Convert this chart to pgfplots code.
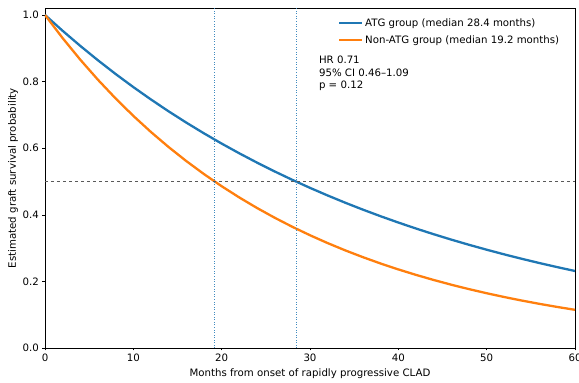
\documentclass[border=0pt]{standalone}
\usepackage{fontspec}
\setmainfont{DejaVu Sans}
\usepackage{pgfplots}
\pgfplotsset{compat=1.18}
\definecolor{c0}{HTML}{1F77B4}
\definecolor{c1}{HTML}{FF7F0E}
\begin{document}
\begin{tikzpicture}
\begin{axis}[name=ax, scale only axis, width=530pt, height=339.7pt,
  xmin=0, xmax=60, ymin=0, ymax=1.02,
  xtick={0,10,20,30,40,50,60}, ytick={0,0.2,0.4,0.6,0.8,1.0},
  yticklabel style={/pgf/number format/.cd,fixed,fixed zerofill,precision=1},
  /pgf/number format/assume math mode=true,
  tick align=outside, tick pos=left, major tick length=2.5pt,
  axis line style={line width=0.55pt}, tick style={line width=0.55pt, black},
  ticklabel style={font=\fontsize{10.2}{12}\selectfont},
  label style={font=\fontsize{10.2}{12}\selectfont},
  xlabel={Months from onset of rapidly progressive CLAD},
  ylabel={Estimated graft survival probability},
  xlabel style={yshift=0pt},
  ylabel style={yshift=-2pt},
  legend style={draw=none, fill=none, at={(0.98,0.982)}, anchor=north east,
    font=\fontsize{10.2}{12}\selectfont, row sep=3.5pt},
  legend cell align=left,
  legend image code/.code={\draw[#1] (0pt,0pt) -- (23pt,0pt);},
]
\addplot[c0, line width=2.3pt] coordinates {
(0,1) (2,0.95236) (4,0.90699) (6,0.86378) (8,0.82262) (10,0.78342) (12,0.74610)
(14,0.71055) (16,0.67670) (18,0.64446) (20,0.61376) (22,0.58452) (24,0.55667)
(26,0.53015) (28,0.50489) (30,0.48084) (32,0.45793) (34,0.43611) (36,0.41533)
(38,0.39555) (40,0.37670) (42,0.35875) (44,0.34166) (46,0.32538) (48,0.30988)
(50,0.29512) (52,0.28106) (54,0.26767) (56,0.25491) (58,0.24277) (60,0.23120)};
\addlegendentry{ATG group (median 28.4 months)}
\addplot[c1, line width=2.3pt] coordinates {
(0,1) (2,0.93034) (4,0.86554) (6,0.80524) (8,0.74915) (10,0.69697) (12,0.64841)
(14,0.60325) (16,0.56122) (18,0.52213) (20,0.48576) (22,0.45192) (24,0.42044)
(26,0.39116) (28,0.36392) (30,0.33857) (32,0.31498) (34,0.29304) (36,0.27263)
(38,0.25364) (40,0.23597) (42,0.21953) (44,0.20424) (46,0.19001) (48,0.17678)
(50,0.16446) (52,0.15301) (54,0.14235) (56,0.13243) (58,0.12321) (60,0.11462)};
\addlegendentry{Non-ATG group (median 19.2 months)}
\addplot[black!65, dashed, line width=0.6pt, forget plot] coordinates {(0,0.5) (60,0.5)};
\addplot[c0!85, dotted, line width=0.55pt, forget plot] coordinates {(19.2,0) (19.2,1.02)};
\addplot[c0!85, dotted, line width=0.55pt, forget plot] coordinates {(28.4,0) (28.4,1.02)};
\node[anchor=north west, align=left, inner sep=0pt, font=\fontsize{10.2}{12.8}\selectfont] at (axis cs:31,0.878) {HR 0.71\\95\% CI 0.46–1.09\\p = 0.12};
\end{axis}
\pgfresetboundingbox
\useasboundingbox ([shift={(-45pt,-35pt)}]ax.south west) rectangle ([shift={(4pt,8.3pt)}]ax.north east);
\end{tikzpicture}
\end{document}
